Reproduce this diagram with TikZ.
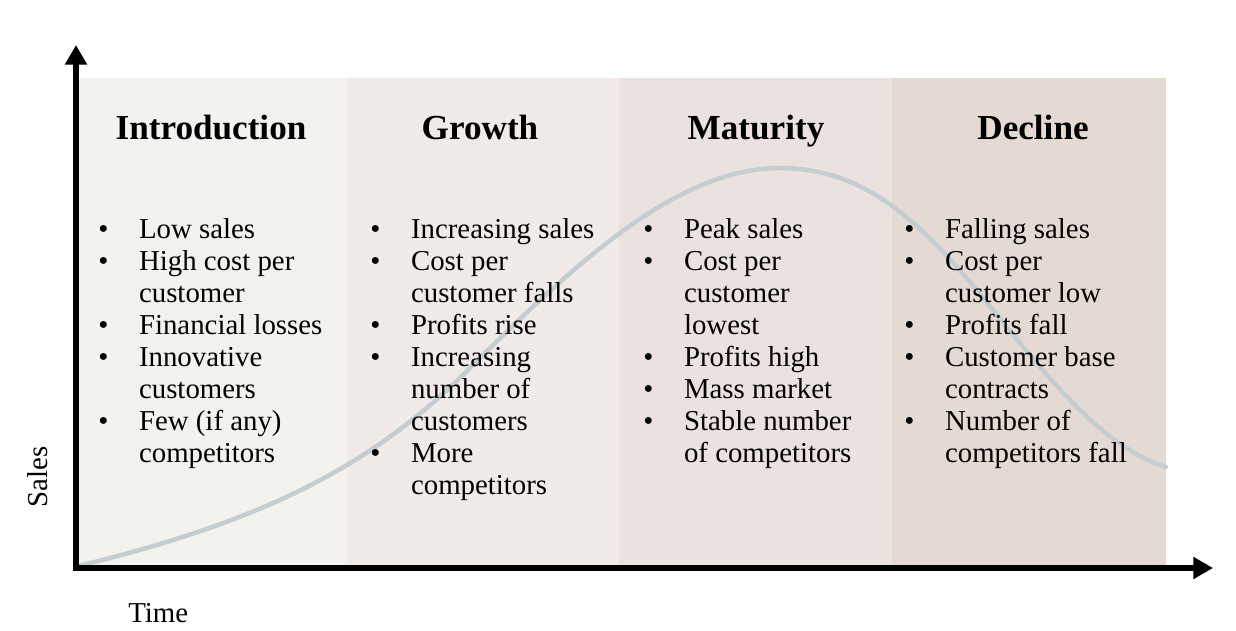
\documentclass[tikz,border=0pt]{standalone}
\usepackage{fontspec}
\setmainfont{Liberation Serif}
\usetikzlibrary{arrows.meta}
\tikzset{>={Triangle[length=14pt,width=15pt]}}
\definecolor{introcol}{RGB}{243,242,238}
\definecolor{growthcol}{RGB}{240,234,232}
\definecolor{maturecol}{RGB}{235,226,224}
\definecolor{declinecol}{RGB}{229,218,211}
\definecolor{curvecol}{RGB}{198,205,209}
\newcommand{\blt}{\textbullet}

\begin{document}
\begin{tikzpicture}[x=0.025cm, y=-0.025cm,
    stage/.style={anchor=base, inner sep=0pt, font=\fontsize{25}{28}\selectfont\bfseries},
    points/.style={anchor=base west, inner sep=0pt, font=\fontsize{20.5}{22.8}\selectfont},
    axis/.style={line width=4pt, <->}]
      \useasboundingbox (0,0) rectangle (1236,631);
      \fill [white] (0,0) rectangle (1236,631);
      % stage panels
      \fill [introcol] (78,78) rectangle (347,566);
      \fill [growthcol] (347,78) rectangle (619,566);
      \fill [maturecol] (619,78) rectangle (892,566);
      \fill [declinecol] (892,78) rectangle (1166,566);
      % sales curve
      \draw [curvecol, line width=3.2pt, line cap=round]
        (78,566) .. controls (278,518) and (380,458) .. (470,368)
        .. controls (580,258) and (680,168) .. (780,168)
        .. controls (890,168) and (950,259) .. (1030,355)
        .. controls (1080,415) and (1121,453) .. (1166,467);
      % axes
      \coordinate (ytip) at (76,45);
      \coordinate (xtip) at (1213,568);
      \draw [axis] (ytip) |- (xtip);
      \node [anchor=base, rotate=90, font=\fontsize{20.5}{22.8}\selectfont] (sales) at (47,477) {Sales};
      \node [anchor=base west, inner sep=0pt, font=\fontsize{20.5}{22.8}\selectfont] (time) at (128,622) {Time};
      % stage titles
      \node [stage] (intro) at (211,139) {Introduction};
      \node [stage] (growth) at (480,139) {Growth};
      \node [stage] (maturity) at (756,139) {Maturity};
      \node [stage] (decline) at (1033,139) {Decline};
      % stage features
      \node [points] (introlist) at (98,238) {\begin{tabular}[t]{@{}p{29pt}@{}l@{}}
        \blt & Low sales\\
        \blt & High cost per\\
             & customer\\
        \blt & Financial losses\\
        \blt & Innovative\\
             & customers\\
        \blt & Few (if any)\\
             & competitors
      \end{tabular}};
      \node [points] (growthlist) at (370,238) {\begin{tabular}[t]{@{}p{29pt}@{}l@{}}
        \blt & Increasing sales\\
        \blt & Cost per\\
             & customer falls\\
        \blt & Profits rise\\
        \blt & Increasing\\
             & number of\\
             & customers\\
        \blt & More\\
             & competitors
      \end{tabular}};
      \node [points] (maturitylist) at (643,238) {\begin{tabular}[t]{@{}p{29pt}@{}l@{}}
        \blt & Peak sales\\
        \blt & Cost per\\
             & customer\\
             & lowest\\
        \blt & Profits high\\
        \blt & Mass market\\
        \blt & Stable number\\
             & of competitors
      \end{tabular}};
      \node [points] (declinelist) at (904,238) {\begin{tabular}[t]{@{}p{29pt}@{}l@{}}
        \blt & Falling sales\\
        \blt & Cost per\\
             & customer low\\
        \blt & Profits fall\\
        \blt & Customer base\\
             & contracts\\
        \blt & Number of\\
             & competitors fall
      \end{tabular}};
\end{tikzpicture}
\end{document}
